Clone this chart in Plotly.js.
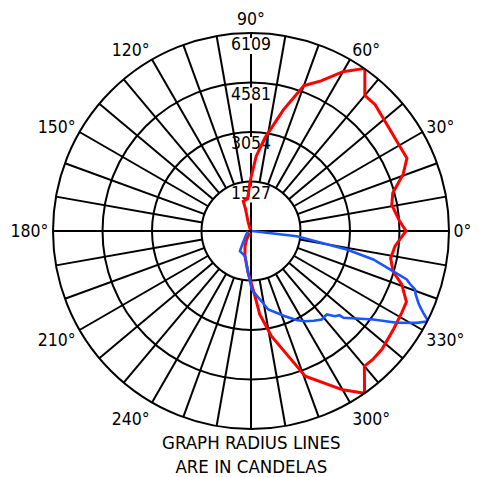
<!DOCTYPE html>
<html>
<head>
<meta charset="utf-8">
<script src="https://cdn.plot.ly/plotly-3.0.1.min.js"></script>
<style>html,body{margin:0;padding:0;background:#fff;}#chart{width:482px;height:477px;}</style>
</head>
<body>
<div id="chart"></div>
<script>
// ---- data (candelas vs angle in degrees) ----
const RMAX = 6109;
const radialTicks = [1527, 3054, 4581, 6109];
const radialTickLabels = ["1527", "3054", "4581", "6109"];
const angularTicks = [0, 30, 60, 90, 120, 150, 180, 210, 240, 300, 330];
const angularTickLabels = ["0°", "30°", "60°", "90°", "120°", "150°", "180°", "210°", "240°", "300°", "330°"];
const spokeAngles = [0,10,20,30,40,50,60,70,80,90,100,110,120,130,140,150,160,170,180,190,200,210,220,230,240,250,260,270,280,290,300,310,320,330,340,350];

const redTheta = [120, 108, 104, 104.5, 96, 91, 86, 81.5, 75, 70, 65, 60, 55, 50, 45.5, 39.5, 25, 20.5, 15, 10.5, 4, 0, -6, -11, -16, -19.5, -24.5, -28.5, -34.5, -42, -46.5, -50, -55, -60, -69.5, -73, -79, -84, -86.5, -91, -94, -103.5, -111.5, -117, -125];
const redR = [40, 270, 700, 950, 1000, 1537, 2315, 2907, 3879, 4771, 5110, 5677, 6125, 5463, 5465, 5345, 5308, 5012, 4528, 4418, 4586, 4783, 4468, 4389, 4563, 4934, 5270, 5290, 5340, 5443, 5461, 5442, 6107, 5659, 4780, 4093, 3308, 2591, 2015, 1497, 1292, 799, 504, 294, 60];

const blueTheta = [0, -6.5, -10.9, -13.1, -15.8, -17.3, -18.5, -19.6, -21, -23.2, -24.2, -25.4, -27, -29, -32.2, -35.9, -43.2, -43.6, -45.4, -47.8, -51.4, -55, -59.1, -63, -68.2, -77.6, -89.3, -94, -103, -118.6, -121.5, -135, -160, 180];
const blueR = [30, 1419, 3008, 3875, 4563, 5032, 5180, 5372, 5440, 5617, 5720, 5885, 6138, 5845, 5313, 4658, 3909, 3765, 3691, 3477, 3495, 3380, 3244, 3080, 2830, 2480, 1805, 1290, 799, 710, 550, 250, 120, 130];

// ---- grid spokes ----
const pxPerUnit = 198 / RMAX;
const labelOffset = 13 / pxPerUnit;
const labelHalf = 8 / pxPerUnit;
const spokeR = [], spokeT = [];
spokeAngles.forEach(a => {
  if (a === 90) {
    let start = 0;
    radialTicks.forEach(v => {
      const c = v - labelOffset;
      spokeR.push(start, c - labelHalf, null);
      spokeT.push(a, a, a);
      start = c + labelHalf;
    });
    spokeR.push(start, RMAX, null); spokeT.push(a, a, a);
  } else if (a % 90 === 0) {
    spokeR.push(0, RMAX, null); spokeT.push(a, a, a);
  } else {
    spokeR.push(radialTicks[0], RMAX, null); spokeT.push(a, a, a);
  }
});

const FONT = "DejaVu Sans Condensed, DejaVu Sans, sans-serif";

const traces = [
  {type: 'scatterpolar', mode: 'lines', r: spokeR, theta: spokeT, connectgaps: false,
   line: {color: 'black', width: 2}, hoverinfo: 'skip'},
  {type: 'scatterpolar', mode: 'text', r: radialTicks.map(v => v - labelOffset), theta: radialTicks.map(() => 90),
   text: radialTickLabels, textposition: 'middle center', cliponaxis: false,
   textfont: {family: FONT, size: 17.5, color: 'black'}, hoverinfo: 'skip'},
  {type: 'scatterpolar', mode: 'lines', r: redR, theta: redTheta,
   line: {color: '#ff0000', width: 3}},
  {type: 'scatterpolar', mode: 'lines', r: blueR, theta: blueTheta,
   line: {color: '#1a55ff', width: 2.6}}
];

const layout = {
  width: 482, height: 477,
  margin: {l: 53, r: 33, t: 33, b: 48},
  paper_bgcolor: 'white',
  showlegend: false,
  font: {family: FONT, color: 'black'},
  polar: {
    domain: {x: [0, 1], y: [0, 1]},
    bgcolor: 'white',
    radialaxis: {range: [0, RMAX], autorange: false, tickmode: 'array', tickvals: radialTicks,
      showticklabels: false, ticks: '', showline: false, gridcolor: 'black', gridwidth: 2},
    angularaxis: {tickmode: 'array', tickvals: angularTicks, ticktext: angularTickLabels,
      showgrid: false, showline: true, linecolor: 'black', linewidth: 2, ticks: '',
      direction: 'counterclockwise', rotation: 0,
      tickfont: {family: FONT, size: 17.5, color: 'black'}}
  },
  annotations: [{
    xref: 'paper', yref: 'paper', x: 0.5, y: -0.064, xanchor: 'center', yanchor: 'middle',
    text: 'GRAPH RADIUS LINES<br>ARE IN CANDELAS', showarrow: false,
    font: {family: FONT, size: 18.5, color: 'black'}
  }]
};

Plotly.newPlot('chart', traces, layout, {staticPlot: true, displayModeBar: false});
</script>
</body>
</html>
